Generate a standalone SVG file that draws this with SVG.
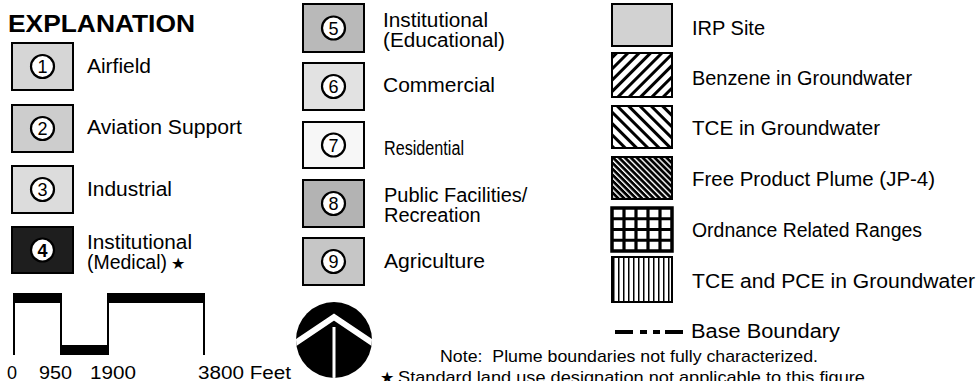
<svg xmlns="http://www.w3.org/2000/svg" width="979" height="381" viewBox="0 0 979 381">
<style>
text{font-family:"Liberation Sans","DejaVu Sans",sans-serif;fill:#000}
.lbl{font-size:20px}
.num{font-size:18px;text-anchor:middle}
.sm{font-size:17px;white-space:pre}
.box{stroke:#000;stroke-width:2}
.ring{fill:#fff;stroke:#000;stroke-width:2.2}
.bar{fill:#000}
.tick{stroke:#000;stroke-width:2}
</style>
<defs>
<pattern id="pBenz" patternUnits="userSpaceOnUse" width="8" height="8" patternTransform="rotate(45)">
<rect width="8" height="8" fill="#fff"/><rect x="0" y="0" width="3" height="8" fill="#000"/>
</pattern>
<pattern id="pTce" patternUnits="userSpaceOnUse" width="8" height="8" patternTransform="rotate(-45)">
<rect width="8" height="8" fill="#fff"/><rect x="0" y="0" width="3" height="8" fill="#000"/>
</pattern>
<pattern id="pFree" patternUnits="userSpaceOnUse" width="4.2" height="4.2" patternTransform="rotate(-45)">
<rect width="4.2" height="4.2" fill="#000"/><rect x="0" y="0" width="1.4" height="4.2" fill="#fff"/>
</pattern>
<pattern id="pVert" patternUnits="userSpaceOnUse" width="5" height="10" x="613">
<rect width="5" height="10" fill="#fff"/><rect x="0" y="0" width="1.5" height="10" fill="#000"/>
</pattern>
<clipPath id="cNorth"><circle cx="334" cy="340" r="38"/></clipPath>
</defs>

<text x="8" y="32" font-size="23" font-weight="bold" textLength="187" lengthAdjust="spacingAndGlyphs">EXPLANATION</text>

<g id="n1"><rect class="box" x="12" y="43" width="61" height="47" fill="#d6d6d6"/><circle class="ring" cx="42.5" cy="66.5" r="11.5"/><text class="num" x="42.5" y="73">1</text><text class="lbl" x="87" y="73" textLength="64" lengthAdjust="spacingAndGlyphs">Airfield</text></g>
<g id="n2"><rect class="box" x="12" y="105" width="61" height="47" fill="#cdcdcd"/><circle class="ring" cx="42.5" cy="128.5" r="11.5"/><text class="num" x="42.5" y="135">2</text><text class="lbl" x="87" y="134" textLength="155" lengthAdjust="spacingAndGlyphs">Aviation Support</text></g>
<g id="n3"><rect class="box" x="12" y="166" width="61" height="47" fill="#dcdcdc"/><circle class="ring" cx="42.5" cy="189.5" r="11.5"/><text class="num" x="42.5" y="196">3</text><text class="lbl" x="87" y="196" textLength="85" lengthAdjust="spacingAndGlyphs">Industrial</text></g>
<g id="n4"><rect class="box" x="12" y="227" width="61" height="46" fill="#1e1e1e"/><circle class="ring" cx="42.5" cy="250" r="11.5"/><text class="num" x="42.5" y="256.5" font-weight="bold">4</text><text class="lbl" x="87" y="249" textLength="105" lengthAdjust="spacingAndGlyphs">Institutional</text><text class="lbl" x="87" y="269" textLength="80" lengthAdjust="spacingAndGlyphs">(Medical)</text><text x="171" y="269" font-size="16">★</text></g>

<g id="n5"><rect class="box" x="303" y="4" width="61" height="48" fill="#b9b9b9"/><circle class="ring" cx="333.5" cy="28" r="11.5"/><text class="num" x="333.5" y="34.5">5</text><text class="lbl" x="383" y="27" textLength="105" lengthAdjust="spacingAndGlyphs">Institutional</text><text class="lbl" x="383" y="47" textLength="122" lengthAdjust="spacingAndGlyphs">(Educational)</text></g>
<g id="n6"><rect class="box" x="303" y="63" width="61" height="47" fill="#e2e2e2"/><circle class="ring" cx="333.5" cy="86.5" r="11.5"/><text class="num" x="333.5" y="93">6</text><text class="lbl" x="383" y="92" textLength="112" lengthAdjust="spacingAndGlyphs">Commercial</text></g>
<g id="n7"><rect class="box" x="303" y="122" width="61" height="46" fill="#f7f7f7"/><circle class="ring" cx="333.5" cy="145" r="11.5"/><text class="num" x="333.5" y="151.5">7</text><text class="lbl" x="384" y="155" textLength="80" lengthAdjust="spacingAndGlyphs">Residential</text></g>
<g id="n8"><rect class="box" x="303" y="180" width="61" height="47" fill="#b3b3b3"/><circle class="ring" cx="333.5" cy="203.5" r="11.5"/><text class="num" x="333.5" y="210">8</text><text class="lbl" x="384" y="202">Public Facilities/</text><text class="lbl" x="384" y="222">Recreation</text></g>
<g id="n9"><rect class="box" x="303" y="238" width="61" height="47" fill="#c6c6c6"/><circle class="ring" cx="333.5" cy="261.5" r="11.5"/><text class="num" x="333.5" y="268">9</text><text class="lbl" x="384" y="268" textLength="101" lengthAdjust="spacingAndGlyphs">Agriculture</text></g>

<g id="irp"><rect class="box" x="612" y="4" width="60" height="42" fill="#d2d2d2"/><text class="lbl" x="692" y="35">IRP Site</text></g>
<g id="benzene"><rect class="box" x="612" y="53" width="60" height="44" fill="url(#pBenz)"/><text class="lbl" x="692" y="85" textLength="220" lengthAdjust="spacingAndGlyphs">Benzene in Groundwater</text></g>
<g id="tce"><rect class="box" x="612" y="106" width="60" height="42" fill="url(#pTce)"/><text class="lbl" x="692" y="135" textLength="188" lengthAdjust="spacingAndGlyphs">TCE in Groundwater</text></g>
<g id="free"><rect class="box" x="612" y="157" width="60" height="42" fill="url(#pFree)"/><text class="lbl" x="692" y="186" textLength="243" lengthAdjust="spacingAndGlyphs">Free Product Plume (JP-4)</text></g>
<g id="ordnance"><rect x="612" y="208" width="60" height="43" fill="#fff" stroke="#000" stroke-width="3.5"/>
<path d="M624 208V251M636 208V251M648 208V251M660 208V251M612 218.75H672M612 229.5H672M612 240.25H672" stroke="#000" stroke-width="3.2" fill="none"/>
<text class="lbl" x="692" y="237" textLength="230" lengthAdjust="spacingAndGlyphs">Ordnance Related Ranges</text></g>
<g id="tcepce"><rect class="box" x="612" y="257" width="60" height="45" fill="url(#pVert)"/><text class="lbl" x="692" y="288" textLength="283" lengthAdjust="spacingAndGlyphs">TCE and PCE in Groundwater</text></g>
<g id="boundary"><path d="M615 332H633M640 332H647M653 332H660M665 332H683" stroke="#000" stroke-width="4" fill="none"/><text class="lbl" x="691" y="338" textLength="149" lengthAdjust="spacingAndGlyphs">Base Boundary</text></g>

<g id="notes">
<text class="sm" x="440" y="362" textLength="378" lengthAdjust="spacingAndGlyphs">Note:  Plume boundaries not fully characterized.</text>
<text x="380" y="383" font-size="16">★</text>
<text class="sm" x="398" y="383" textLength="472" lengthAdjust="spacingAndGlyphs">Standard land use designation not applicable to this figure.</text>
</g>

<g id="scale">
<rect class="bar" x="13" y="293" width="48" height="10"/>
<rect class="bar" x="61" y="345" width="47" height="10"/>
<rect class="bar" x="108" y="293" width="97" height="10"/>
<path class="tick" d="M14 293V355M61 293V355M108 293V355M204 293V355" fill="none"/>
<text x="7" y="379" font-size="18">0</text>
<text x="39" y="379" font-size="18" textLength="33" lengthAdjust="spacingAndGlyphs">950</text>
<text x="90" y="379" font-size="18" textLength="46" lengthAdjust="spacingAndGlyphs">1900</text>
<text x="198" y="379" font-size="18" textLength="93" lengthAdjust="spacingAndGlyphs">3800 Feet</text>
</g>

<g id="north">
<circle cx="334" cy="340" r="38" fill="#000"/>
<g clip-path="url(#cNorth)" stroke="#fff" fill="none">
<polyline points="288,348 334,317 380,348" stroke-width="6" stroke-linejoin="miter"/>
<line x1="334" y1="327" x2="334" y2="381" stroke-width="3"/>
</g>
</g>
<g id="connectors"/>
</svg>
